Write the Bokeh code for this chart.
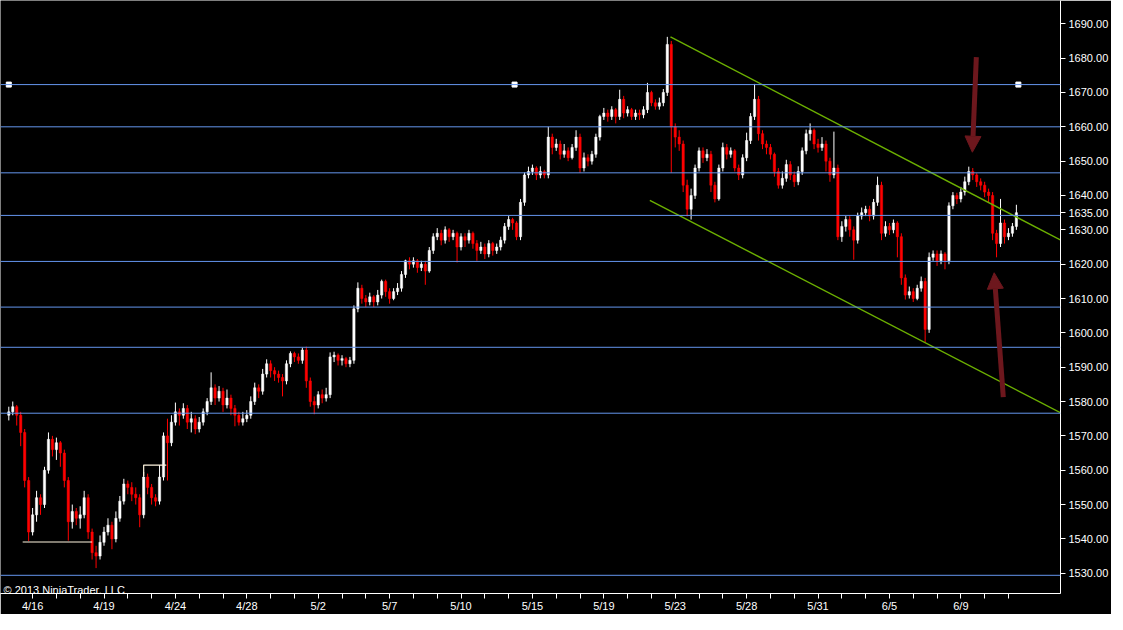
from bokeh.plotting import figure
from bokeh.models import (ColumnDataSource, Range1d, FixedTicker, PrintfTickFormatter,
                          Span, Label, Arrow, NormalHead)
from bokeh.embed import file_html
from bokeh.resources import INLINE

# ---------------- data ----------------
opens = [
    1576, 1577, 1578.5, 1576, 1571, 1557, 1542, 1547, 1552, 1550,
    1560, 1569, 1566, 1568, 1565, 1557, 1545, 1548, 1546, 1547,
    1552, 1542, 1536, 1535, 1539, 1542, 1544, 1540, 1546, 1551,
    1556, 1555, 1553, 1552, 1547, 1558, 1555, 1552, 1551, 1558,
    1570, 1568, 1574, 1577, 1576, 1578, 1574, 1575, 1572, 1574,
    1577, 1580, 1584, 1581, 1583, 1579, 1581, 1578, 1576, 1574,
    1575, 1576, 1580, 1584, 1583, 1588, 1591, 1589, 1588, 1587,
    1586, 1591, 1594, 1593, 1592, 1595, 1586, 1580, 1579, 1582,
    1581, 1582, 1593, 1593.5, 1592, 1592.5, 1591, 1592, 1607, 1613,
    1610, 1609, 1610.5, 1609, 1611, 1615, 1612, 1610, 1612, 1613,
    1617, 1621, 1620, 1621, 1619, 1620, 1618, 1624, 1628, 1629,
    1627, 1630, 1628, 1629, 1625, 1628, 1627, 1629, 1626, 1624,
    1625, 1623, 1626, 1624, 1625, 1627, 1631, 1633, 1632, 1628,
    1638, 1646, 1647, 1648, 1646, 1647, 1646, 1657, 1654, 1655,
    1652, 1653, 1651, 1654, 1657, 1648, 1651, 1650, 1652, 1657,
    1663, 1664, 1663, 1665, 1663, 1668, 1664, 1665, 1663, 1664,
    1663.5, 1665, 1670, 1667, 1666, 1667, 1670, 1684, 1660, 1657,
    1655, 1643, 1636, 1640, 1648, 1653, 1651, 1652, 1643, 1639,
    1648, 1654, 1652, 1653, 1648, 1646, 1651, 1656, 1663, 1668,
    1658, 1655, 1654, 1652, 1647, 1643, 1645, 1649, 1646, 1644,
    1647, 1653, 1658, 1659, 1655, 1654, 1655, 1650, 1646, 1648,
    1628, 1631, 1633, 1630, 1627, 1634, 1635, 1636, 1634, 1638,
    1643, 1629, 1631, 1630, 1632, 1628, 1616, 1611, 1612, 1610,
    1613, 1615, 1601, 1622, 1623, 1621, 1623, 1621, 1637, 1640,
    1639, 1641, 1644, 1647, 1646, 1644, 1643, 1641, 1640, 1629,
    1626, 1632, 1628, 1629, 1631,
]
highs = [
    1578.5, 1580, 1579, 1577, 1572, 1558, 1549, 1554, 1553, 1561,
    1571, 1570, 1569.5, 1568.5, 1566, 1558, 1550, 1549, 1549.5, 1554,
    1553, 1543, 1538, 1541, 1543.5, 1546, 1545, 1548, 1552.5, 1557.5,
    1557, 1556.5, 1555, 1553, 1559.5, 1559, 1556, 1553, 1561.5, 1571,
    1575, 1576, 1579.7, 1578, 1579.5, 1579, 1577, 1576, 1575.5, 1578,
    1581, 1588.5, 1585, 1584.5, 1584, 1583.5, 1582, 1579, 1577, 1577,
    1577.5, 1581.5, 1585.5, 1585, 1589.5, 1592.3, 1592, 1590, 1589, 1588,
    1592, 1594.6, 1594.5, 1594, 1595.7, 1596, 1587, 1581.5, 1583, 1583.5,
    1584, 1594.3, 1594.5, 1594, 1593.5, 1593, 1593, 1608, 1614.7, 1614,
    1611, 1611.7, 1611, 1612.5, 1615.5, 1615.5, 1613, 1613, 1614.5, 1618,
    1621.3, 1622, 1622, 1621.5, 1621, 1621, 1625, 1629, 1630.5, 1630,
    1631, 1630.5, 1630, 1629.5, 1629, 1629, 1630, 1629.5, 1627, 1626.5,
    1626, 1627, 1626.5, 1626, 1628, 1632, 1634, 1633.5, 1632.5, 1639,
    1646.7, 1648.4, 1649, 1648.5, 1648.5, 1647.5, 1660, 1658, 1656.5, 1656,
    1655, 1654, 1655, 1659, 1658, 1652.5, 1652, 1653, 1658, 1663.5,
    1665.5, 1665, 1666, 1665.5, 1670.8, 1669, 1666, 1665.5, 1665, 1665,
    1666, 1672.8, 1670.5, 1668, 1668.5, 1671, 1686.2, 1685, 1661, 1659,
    1656, 1644.6, 1642, 1649, 1654, 1654, 1653.5, 1653, 1644, 1649,
    1655.4, 1655, 1654, 1653.5, 1649, 1652, 1658.3, 1664, 1672.5, 1669,
    1659, 1656, 1655, 1652.5, 1648, 1647, 1650.4, 1650, 1647, 1648.5,
    1654, 1659.2, 1661, 1659.5, 1656.5, 1657, 1656, 1651, 1658.6, 1649,
    1632.5, 1634, 1634, 1631, 1635, 1636.5, 1637, 1637, 1639, 1645.5,
    1644, 1632.5, 1632, 1633, 1632.5, 1629, 1617, 1613.5, 1613, 1614,
    1616.4, 1616, 1623.4, 1624, 1624, 1624, 1623.5, 1638, 1641, 1640.8,
    1642.5, 1645.5, 1648.4, 1648, 1646.5, 1645, 1644, 1642, 1641, 1630,
    1639, 1633, 1630.5, 1632, 1637.3,
]
lows = [
    1574.5, 1576, 1573, 1567, 1555, 1539.4, 1541, 1545, 1547, 1549,
    1559, 1564, 1563, 1561, 1555, 1539.5, 1543, 1544, 1543, 1546,
    1540, 1534, 1531.5, 1534, 1538, 1541, 1537, 1539, 1545, 1550,
    1553, 1551, 1550, 1543.4, 1546, 1553, 1550, 1549.5, 1550, 1557,
    1557, 1567, 1573, 1573, 1575, 1572, 1571, 1570.5, 1571, 1573,
    1576, 1579, 1579, 1580, 1577, 1578, 1576, 1572.8, 1573, 1573,
    1574, 1575, 1579, 1581, 1582, 1587, 1587, 1586, 1585.5, 1581.5,
    1585, 1590, 1591.5, 1591, 1591, 1584, 1578.5, 1576.3, 1578, 1579.5,
    1580, 1581, 1591.5, 1590.5, 1590.5, 1590, 1590, 1591, 1606, 1608.5,
    1607.5, 1608, 1607.5, 1608, 1610, 1610.5, 1608.5, 1609.5, 1611, 1612,
    1616, 1618.5, 1619, 1617.5, 1618, 1614, 1617.5, 1623, 1627, 1625.5,
    1626, 1626.5, 1627, 1620.5, 1624, 1625, 1626, 1624.5, 1621, 1623,
    1621.5, 1622, 1622.5, 1623, 1624, 1626, 1630, 1630, 1627, 1627,
    1637, 1645, 1646, 1644.5, 1645, 1645, 1645, 1652, 1653, 1650.5,
    1651, 1650, 1650.5, 1653, 1646.6, 1647, 1648.5, 1649, 1651, 1656,
    1662, 1661.5, 1662, 1661, 1662, 1662.5, 1663, 1662, 1662, 1662,
    1662.5, 1664, 1666, 1665, 1665, 1666, 1669, 1646.6, 1654, 1653,
    1641, 1633.9, 1633, 1639, 1647, 1649.5, 1650, 1641, 1638, 1638.5,
    1647, 1650.5, 1651, 1647, 1644.5, 1645, 1650, 1655, 1662, 1656,
    1653.5, 1652, 1650.5, 1645.5, 1642, 1642, 1644, 1644.5, 1642.5, 1643,
    1646, 1652, 1656, 1653.5, 1652.5, 1653, 1647, 1644, 1645, 1627,
    1626.5, 1629.5, 1628, 1621.3, 1626, 1633, 1634, 1632.5, 1633, 1637,
    1627, 1628, 1628.5, 1629, 1622, 1614, 1609.7, 1610, 1609, 1609.5,
    1612, 1597.2, 1600, 1621, 1619.5, 1620, 1618.5, 1620, 1636, 1637.5,
    1638, 1640, 1643, 1644.5, 1642.5, 1641.5, 1639.5, 1638, 1627, 1622,
    1625, 1626, 1627, 1628, 1630,
]
closes = [
    1577, 1578.5, 1576, 1571, 1557, 1542, 1547, 1552, 1550, 1560,
    1569, 1566, 1568, 1565, 1557, 1545, 1548, 1546, 1547, 1552,
    1542, 1536, 1535, 1539, 1542, 1544, 1540, 1546, 1551, 1556,
    1555, 1553, 1552, 1547, 1558, 1555, 1552, 1551, 1558, 1570,
    1568, 1574, 1577, 1576, 1578, 1574, 1575, 1572, 1574, 1577,
    1580, 1584, 1581, 1583, 1579, 1581, 1578, 1576, 1574, 1575,
    1576, 1580, 1584, 1583, 1588, 1591, 1589, 1588, 1587, 1586,
    1591, 1594, 1593, 1592, 1595, 1586, 1580, 1579, 1582, 1581,
    1582, 1593, 1593.5, 1592, 1592.5, 1591, 1592, 1607, 1613, 1610,
    1609, 1610.5, 1609, 1611, 1615, 1612, 1610, 1612, 1613, 1617,
    1621, 1620, 1621, 1619, 1620, 1618, 1624, 1628, 1629, 1627,
    1630, 1628, 1629, 1625, 1628, 1627, 1629, 1626, 1624, 1625,
    1623, 1626, 1624, 1625, 1627, 1631, 1633, 1632, 1628, 1638,
    1646, 1647, 1648, 1646, 1647, 1646, 1657, 1654, 1655, 1652,
    1653, 1651, 1654, 1657, 1648, 1651, 1650, 1652, 1657, 1663,
    1664, 1663, 1665, 1663, 1668, 1664, 1665, 1663, 1664, 1663.5,
    1665, 1670, 1667, 1666, 1667, 1670, 1684, 1660, 1657, 1655,
    1643, 1636, 1640, 1648, 1653, 1651, 1652, 1643, 1639, 1648,
    1654, 1652, 1653, 1648, 1646, 1651, 1656, 1663, 1668, 1658,
    1655, 1654, 1652, 1647, 1643, 1645, 1649, 1646, 1644, 1647,
    1653, 1658, 1659, 1655, 1654, 1655, 1650, 1646, 1648, 1628,
    1631, 1633, 1630, 1627, 1634, 1635, 1636, 1634, 1638, 1643,
    1629, 1631, 1630, 1632, 1628, 1616, 1611, 1612, 1610, 1613,
    1615, 1601, 1622, 1623, 1621, 1623, 1621, 1637, 1640, 1639,
    1641, 1644, 1647, 1646, 1644, 1643, 1641, 1640, 1629, 1626,
    1632, 1628, 1629, 1631, 1635,
]

# x-axis: one tick every 6 bars, date label on every third tick
tick_step = 6
date_labels = ["4/16", "4/19", "4/24", "4/28", "5/2", "5/7", "5/10",
               "5/15", "5/19", "5/23", "5/28", "5/31", "6/5", "6/9"]
date_bars = [6, 24, 42, 60, 78, 96, 114, 132, 150, 168, 186, 204, 222, 240]

y_ticks = [1530, 1540, 1550, 1560, 1570, 1580, 1590, 1600, 1610,
           1620, 1630, 1640, 1650, 1660, 1670, 1680, 1690]

# horizontal price levels drawn on the chart
levels = [1672.3, 1660.0, 1646.6, 1634.2, 1620.8, 1607.5, 1595.8, 1576.6, 1529.4]
handle_bars = [0, 127.5, 254.5]          # selection handles on the top level

# falling channel (bar index, price)
channel_upper_x = [166.8, 266.5]
channel_upper_y = [1686.2, 1626.2]
channel_lower_x = [161.6, 266.5]
channel_lower_y = [1638.6, 1575.9]

# small white drawing lines
support_x = [3.5, 21.0]
support_y = [1539.1, 1539.1]
step_x = [34.0, 34.0, 39.7]
step_y = [1558.3, 1561.5, 1561.5]

# arrows (bar index, price): start -> tip
arrow_down = (243.9, 1680.3, 242.9, 1652.6)
arrow_up = (250.7, 1581.3, 248.4, 1617.5)

# ---------------- styling ----------------
BLUE = "#6495ED"
GREEN = "#6CB000"
UP = "#FFFFFF"
DOWN = "#FF0000"
ARROW = "#6D171D"
FONT = "Liberation Sans"

bars = list(range(len(closes)))
colors = [UP if c >= o else DOWN for o, c in zip(opens, closes)]
source = ColumnDataSource(dict(
    x=bars, high=highs, low=lows,
    top=[max(o, c) for o, c in zip(opens, closes)],
    bottom=[min(o, c) for o, c in zip(opens, closes)],
    color=colors,
))

p = figure(frame_width=1060, frame_height=593,
           x_range=Range1d(-2.092, 265.12), y_range=Range1d(1524.1, 1696.785),
           y_axis_location="right", output_backend="svg", toolbar_location=None,
           background_fill_color="black", border_fill_color="black",
           min_border_left=0, min_border_top=0, min_border_bottom=21,
           min_border_right=47)
p.outline_line_color = None
p.xgrid.visible = False
p.ygrid.visible = False

# horizontal levels
for lv in levels:
    p.add_layout(Span(location=lv, dimension="width", line_color=BLUE, line_width=1))

# candles
p.segment(x0="x", y0="high", x1="x", y1="low", color="color", line_width=1, source=source)
p.vbar(x="x", top="top", bottom="bottom", width=0.58, fill_color="color",
       line_color="color", line_width=0.5, source=source)

# channel
p.line(channel_upper_x, channel_upper_y, line_color=GREEN, line_width=1.4)
p.line(channel_lower_x, channel_lower_y, line_color=GREEN, line_width=1.4)

# white drawings
p.line(support_x, support_y, line_color="#FFF5E0", line_width=1.2)
p.line(step_x, step_y, line_color="#FFF5E0", line_width=1.2)

# selection handles
p.scatter(handle_bars, [levels[0]] * len(handle_bars), marker="square", size=5,
          fill_color="white", line_color="white")

# arrows
for a in (arrow_down, arrow_up):
    p.add_layout(Arrow(end=NormalHead(size=16, fill_color=ARROW, line_color=ARROW),
                       x_start=a[0], y_start=a[1], x_end=a[2], y_end=a[3],
                       line_color=ARROW, line_width=5))

# price axis, with the last price shown as an extra label
last = closes[-1]
yax = p.yaxis[0]
yax.ticker = FixedTicker(ticks=y_ticks + [last])
yax.formatter = PrintfTickFormatter(format="%.2f")
yax.axis_line_color = "white"
yax.major_tick_line_color = "white"
yax.major_tick_out = 5
yax.major_tick_in = 0
yax.minor_tick_line_color = None
yax.major_label_text_color = "white"
yax.major_label_text_font = FONT
yax.major_label_text_font_size = "11px"
yax.major_label_standoff = 3

xax = p.xaxis[0]
xticks = list(range(tick_step, len(closes), tick_step))
xax.ticker = FixedTicker(ticks=xticks)
overrides = {t: "" for t in xticks}
overrides.update({b: lab for b, lab in zip(date_bars, date_labels)})
xax.major_label_overrides = overrides
xax.axis_line_color = "white"
xax.major_tick_line_color = "white"
xax.major_tick_out = 5
xax.major_tick_in = 0
xax.minor_tick_line_color = None
xax.major_label_text_color = "white"
xax.major_label_text_font = FONT
xax.major_label_text_font_size = "11px"
xax.major_label_standoff = 1

# copyright
p.add_layout(Label(x=3, y=1525.0, x_units="screen", y_units="data",
                   text="\u00a9 2013 NinjaTrader, LLC",
                   text_baseline="alphabetic", text_align="left", text_color="white",
                   text_font=FONT, text_font_size="11px"))

open("out.html", "w").write(file_html(p, INLINE))
